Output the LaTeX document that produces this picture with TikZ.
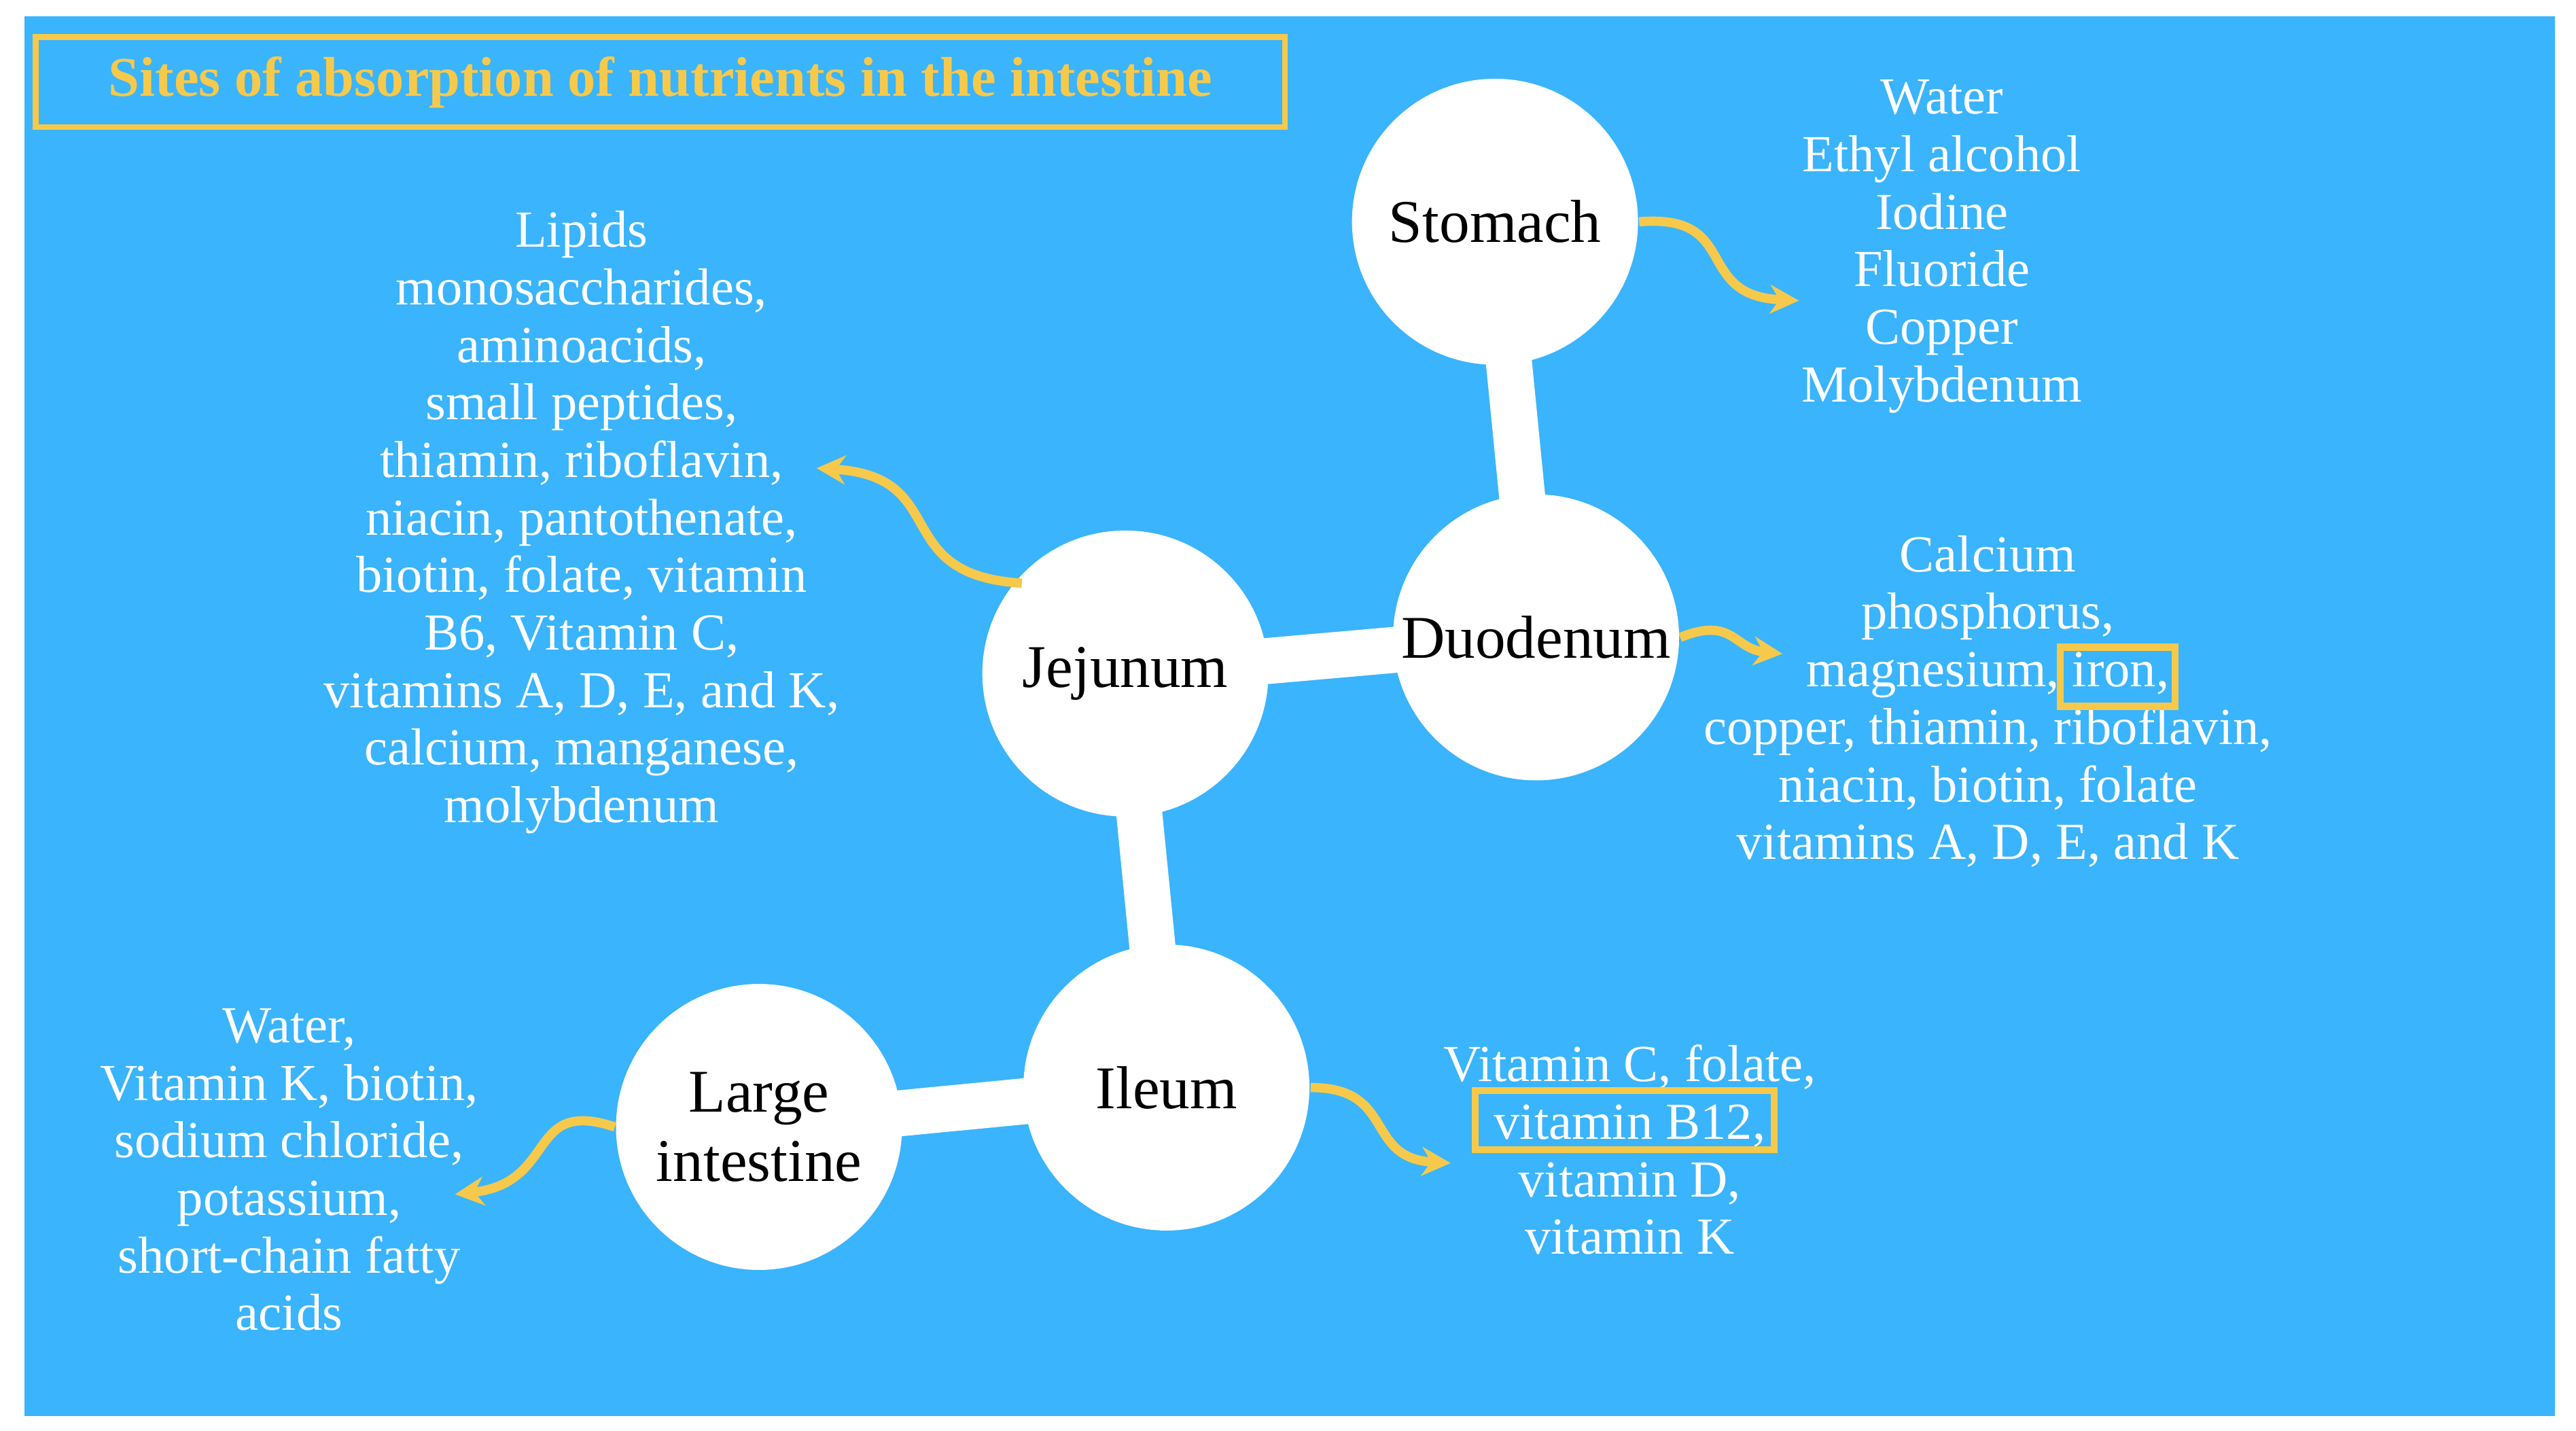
\documentclass[tikz,border=0pt]{standalone}
\usepackage{fontspec}
\setmainfont{Liberation Serif}
\usetikzlibrary{arrows.meta}
\definecolor{bg}{HTML}{3AB4FC}
\definecolor{yl}{HTML}{F7C94B}
\tikzset{
 blob/.style={circle,fill=white,minimum size=1.74cm,inner sep=0pt,font=\fontsize{10.5}{12}\selectfont,align=center},
 lst/.style={text=white,align=center,font=\fontsize{9}{9.96}\selectfont,inner sep=0pt},
 arr/.style={yl,line width=1.6pt,-{Stealth[length=5pt,width=5pt]}},
 neck/.style={white,line width=0.28cm},
 hl/.style={yl,line width=1.2pt}
}
\begin{document}
\begin{tikzpicture}[x=0.01cm,y=-0.01cm]
\useasboundingbox (0,0) rectangle (1568,871);
\fill[white] (0,0) rectangle (1568,871);
\fill[bg] (15,10) rectangle (1555,862);
\node[draw=yl,line width=1pt,minimum width=7.6cm,minimum height=0.5cm,text=yl,font=\bfseries\fontsize{9.7}{11}\selectfont] (title) at (402,50) {Sites of absorption of nutrients in the intestine};
\coordinate (cs) at (910,135);
\coordinate (cd) at (935,388);
\coordinate (cj) at (685,410);
\coordinate (ci) at (710,662);
\coordinate (cl) at (462,686);
\draw[neck] (cs) -- (cd);
\draw[neck] (cd) -- (cj);
\draw[neck] (cj) -- (ci);
\draw[neck] (ci) -- (cl);
\node[blob] (st) at (cs) {Stomach};
\node[blob] (du) at (cd) {Duodenum};
\node[blob] (je) at (cj) {Jejunum};
\node[blob] (il) at (ci) {Ileum};
\node[blob] (li) at (cl) {Large\\intestine};
\node[lst] (ls) at (1182,150) {Water\\Ethyl alcohol\\Iodine\\Fluoride\\Copper\\Molybdenum};
\node[lst] (ld) at (1210,427) {Calcium\\phosphorus,\\magnesium, iron,\\copper, thiamin, riboflavin,\\niacin, biotin, folate\\vitamins A, D, E, and K};
\node[lst] (lj) at (354,318) {Lipids\\monosaccharides,\\aminoacids,\\small peptides,\\thiamin, riboflavin,\\niacin, pantothenate,\\biotin, folate, vitamin\\B6, Vitamin C,\\vitamins A, D, E, and K,\\calcium, manganese,\\molybdenum};
\node[lst] (lil) at (992,700) {Vitamin C, folate,\\vitamin B12,\\vitamin D,\\vitamin K};
\node[lst] (ll) at (176,712) {Water,\\Vitamin K, biotin,\\sodium chloride,\\potassium,\\short-chain fatty\\acids};
\draw[hl] (1254,394) rectangle (1324,430);
\draw[hl] (898,664) rectangle (1080,700);
\coordinate (a1) at (1095,183); \coordinate (a2) at (1085,398);
\coordinate (a3) at (497,285); \coordinate (a4) at (883,708);
\coordinate (a5) at (277,727);
\draw[arr] (st.east) .. controls (1060,130) and (1030,180) .. (a1);
\draw[arr] (du.east) .. controls (1055,375) and (1055,395) .. (a2);
\draw[arr] (622,355) .. controls (540,350) and (580,290) .. (a3);
\draw[arr] (il.east) .. controls (850,662) and (830,705) .. (a4);
\draw[arr] (li.west) .. controls (320,668) and (340,720) .. (a5);
\end{tikzpicture}
\end{document}
